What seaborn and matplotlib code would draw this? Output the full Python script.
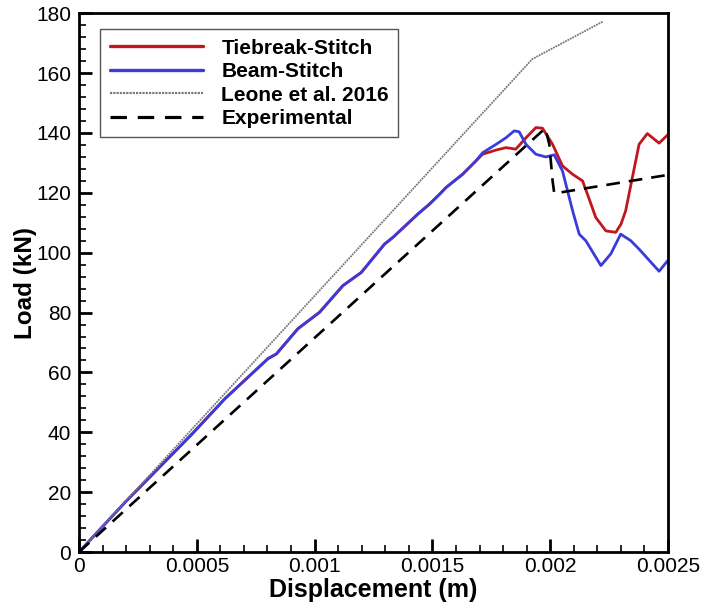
import matplotlib
matplotlib.use('Agg')
import matplotlib.pyplot as plt
from matplotlib.ticker import MultipleLocator, FixedLocator
import pandas as pd
import seaborn as sns

tiebreak_x = [0, 0.0001, 0.0002, 0.0003, 0.0004, 0.000483, 0.000619, 0.000802, 0.000838,
              0.000929, 0.001021, 0.00112, 0.001198, 0.001297, 0.001332, 0.001438, 0.001487,
              0.00153, 0.001558, 0.001628, 0.001685, 0.001713, 0.00177, 0.001812, 0.001854,
              0.001897, 0.001939, 0.001967, 0.00201, 0.002052, 0.002095, 0.002137, 0.002165,
              0.002193, 0.002236, 0.002278, 0.0023, 0.00232, 0.002377, 0.002412, 0.002462, 0.0025]
tiebreak_y = [0, 8.5, 17, 25, 33, 39.7, 51.2, 64.6, 66.2,
              74.6, 80.1, 89, 93.4, 102.9, 105.1, 112.9, 116.2,
              119.5, 121.8, 126.2, 130.7, 132.9, 134.3, 135.1, 134.6,
              138.4, 141.8, 141.6, 136.2, 129, 126.2, 124, 118,
              111.8, 107.3, 106.8, 109.5, 114, 136.2, 139.8, 136.6, 139.5]

beam_x = [0, 0.0001, 0.0002, 0.0003, 0.0004, 0.000483, 0.000619, 0.000802, 0.000838,
          0.000929, 0.001021, 0.00112, 0.001198, 0.001297, 0.001332, 0.001438, 0.001487,
          0.00153, 0.001558, 0.001628, 0.001685, 0.001713, 0.00177, 0.001812, 0.001847,
          0.001868, 0.001897, 0.001939, 0.001981, 0.002017, 0.002052, 0.002095, 0.002123,
          0.002151, 0.002215, 0.002257, 0.002299, 0.002342, 0.002377, 0.002462, 0.0025]
beam_y = [0, 8.5, 17, 25, 33, 39.7, 51.2, 64.6, 66.2,
          74.6, 80.1, 89, 93.4, 102.9, 105.1, 112.9, 116.2,
          119.5, 121.8, 126.2, 130.7, 133.4, 136.2, 138.4, 140.7,
          140.4, 136.2, 132.9, 132, 132.7, 127.3, 114, 106.2,
          104, 95.7, 99.6, 106.2, 104, 101.2, 93.8, 97.5]

leone_x = [0, 0.001924, 0.002225]
leone_y = [0, 164.7, 177.3]

exp_x = [0, 0.001979, 0.001996, 0.00201, 0.002017, 0.0025]
exp_y = [0, 141.6, 136.2, 124, 119.8, 126]

x_ticks = [0, 0.0005, 0.001, 0.0015, 0.002, 0.0025]
x_ticklabels = ['0', '0.0005', '0.001', '0.0015', '0.002', '0.0025']
y_ticks = [0, 20, 40, 60, 80, 100, 120, 140, 160, 180]

sns.set_style('ticks')
plt.rcParams['font.family'] = ['Liberation Sans', 'DejaVu Sans']
plt.rcParams['text.color'] = 'black'
plt.rcParams['axes.labelcolor'] = 'black'
plt.rcParams['xtick.color'] = 'black'
plt.rcParams['ytick.color'] = 'black'
plt.rcParams['axes.edgecolor'] = 'black'

fig = plt.figure(figsize=(7.01, 6.02), dpi=100)
ax = fig.add_axes([0.1127, 0.083, 0.8403, 0.895])

df_tb = pd.DataFrame({'x': tiebreak_x, 'y': tiebreak_y})
df_bm = pd.DataFrame({'x': beam_x, 'y': beam_y})
df_le = pd.DataFrame({'x': leone_x, 'y': leone_y})
df_ex = pd.DataFrame({'x': exp_x, 'y': exp_y})

sns.lineplot(data=df_tb, x='x', y='y', ax=ax, sort=False, color='#c0161d', lw=2,
             label='Tiebreak-Stitch')
sns.lineplot(data=df_bm, x='x', y='y', ax=ax, sort=False, color='#3b3bdc', lw=2,
             label='Beam-Stitch')
sns.lineplot(data=df_le, x='x', y='y', ax=ax, sort=False, color='#777777', lw=1.3,
             linestyle=(0, (1, 0.5)), label='Leone et al. 2016')
sns.lineplot(data=df_ex, x='x', y='y', ax=ax, sort=False, color='black', lw=1.9,
             dashes=False, label='Experimental')
ax.lines[-1].set_dashes((5.2, 3.4))

ax.set_xlim(0, 0.0025)
ax.set_ylim(0, 180)
ax.xaxis.set_major_locator(FixedLocator(x_ticks))
ax.set_xticklabels(x_ticklabels)
ax.xaxis.set_minor_locator(MultipleLocator(0.0001))
ax.yaxis.set_major_locator(FixedLocator(y_ticks))
ax.yaxis.set_minor_locator(MultipleLocator(4))

ax.tick_params(which='major', direction='in', length=9.5, width=2, labelsize=15,
               top=False, right=False)
ax.tick_params(axis='x', which='major', pad=3.5)
ax.tick_params(axis='y', which='major', pad=5.5)
ax.tick_params(which='minor', direction='in', length=5, width=1.2, top=False, right=False)
for s in ax.spines.values():
    s.set_linewidth(2)
    s.set_visible(True)

ax.set_xlabel('Displacement (m)', fontsize=18, fontweight='bold', labelpad=1.6)
ax.set_ylabel('Load (kN)', fontsize=17.5, fontweight='bold', labelpad=-0.5)

leg = ax.legend(loc='upper left', bbox_to_anchor=(0.036, 0.97), borderaxespad=0,
                fancybox=False, edgecolor='#555555', framealpha=1, handlelength=4.5,
                handletextpad=0.87, labelspacing=0.21, borderpad=0.45,
                prop={'weight': 'bold', 'size': 15})
leg.get_frame().set_linewidth(1.0)
for h in leg.get_lines():
    h.set_linewidth(h.get_linewidth() * 1.2)

fig.savefig('out.png', dpi=100)
